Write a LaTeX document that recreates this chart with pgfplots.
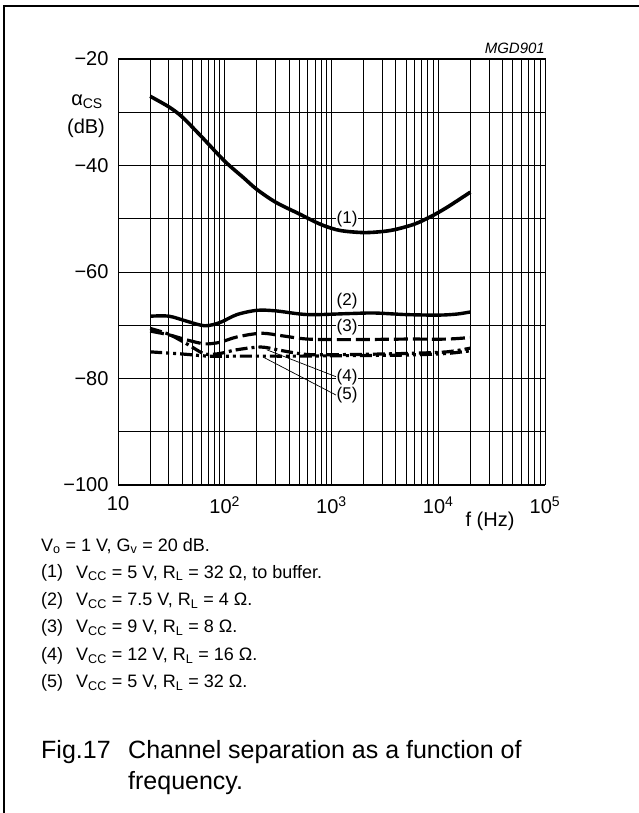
\documentclass[border=0pt]{standalone}
\usepackage{fontspec}
\setmainfont{Liberation Sans}
\usepackage{pgfplots}
\pgfplotsset{compat=1.18}
\begin{document}
\begin{tikzpicture}[x=1bp,y=1bp]
\useasboundingbox (0,0) rectangle (639,813);
\draw[line width=1.8bp] (4,0) -- (4,807) -- (639,807);
\begin{axis}[
  at={(118bp,328bp)}, anchor=south west,
  scale only axis, width=427bp, height=426bp,
  xmode=log, log basis x=10,
  xmin=10, xmax=100000, ymin=-100, ymax=-20,
  xtick={10,100,1000,10000,100000},
  xticklabels={10,10\textsuperscript{2},10\textsuperscript{3},10\textsuperscript{4},10\textsuperscript{5}},
  minor xtick={20,30,40,50,60,70,80,90,200,300,400,500,600,700,800,900,2000,3000,4000,5000,6000,7000,8000,9000,20000,30000,40000,50000,60000,70000,80000,90000},
  ytick={-100,-90,-80,-70,-60,-50,-40,-30,-20},
  yticklabels={−100,,−80,,−60,,−40,,−20},
  xmajorgrids, xminorgrids, ymajorgrids,
  major tick length=0pt, minor tick length=0pt,
  grid style={black, line width=0.9bp},
  minor grid style={black, line width=0.9bp},
  axis line style={line width=1bp},
  tick label style={font=\fontsize{20bp}{22bp}\selectfont},
  yticklabel style={xshift=-6bp},
  xticklabel style={yshift=-8bp},
  clip=false,
]
\addplot[black, line width=3.6bp, smooth] coordinates {
(20,-27.0) (30,-29.0) (40,-30.9) (60,-34.5) (100,-39.2) (150,-42.3) (200,-44.5) (300,-46.9) (500,-49.1) (800,-51.1) (1200,-52.2) (2000,-52.6) (3000,-52.4) (4000,-52.0) (6000,-51.0) (8500,-49.6) (12000,-47.9) (20000,-45.0)};
\addplot[black, line width=3.4bp, smooth] coordinates {
(20,-68.3) (30,-68.3) (45,-69.3) (65,-70.1) (90,-69.5) (130,-68.0) (200,-67.2) (300,-67.3) (600,-68.0) (1500,-67.8) (2500,-67.7) (5000,-68.0) (10000,-68.1) (15000,-67.9) (20000,-67.5)};
\addplot[black, line width=3.2bp, smooth, dash pattern=on 14bp off 5bp] coordinates {
(20,-71.1) (30,-71.8) (45,-72.8) (65,-73.5) (90,-73.2) (130,-72.2) (220,-71.5) (350,-72.0) (600,-72.6) (1500,-72.7) (5000,-72.6) (12000,-72.6) (20000,-72.3)};
\addplot[black, line width=3.2bp, smooth, dash pattern=on 12bp off 4bp on 3bp off 4bp] coordinates {
(20,-70.6) (30,-71.7) (45,-73.6) (65,-75.4) (90,-75.3) (130,-74.6) (220,-74.1) (350,-74.8) (600,-75.5) (1500,-75.5) (5000,-75.3) (12000,-75.0) (20000,-74.3)};
\addplot[black, line width=3.2bp, smooth, dash pattern=on 12bp off 4bp on 3bp off 4bp on 3bp off 4bp] coordinates {
(20,-75.0) (40,-75.4) (70,-75.8) (120,-75.8) (220,-75.8) (500,-75.8) (1500,-75.7) (5000,-75.6) (12000,-75.3) (20000,-74.8)};
\node[fill=white, inner sep=1bp, font=\fontsize{17bp}{19bp}\selectfont] at (axis cs:1400,-50.1) {(1)};
\node[fill=white, inner sep=1bp, font=\fontsize{17bp}{19bp}\selectfont] at (axis cs:1400,-65.5) {(2)};
\node[fill=white, inner sep=1bp, font=\fontsize{17bp}{19bp}\selectfont] at (axis cs:1400,-70.3) {(3)};
\node[fill=white, inner sep=1bp, font=\fontsize{17bp}{19bp}\selectfont] at (axis cs:1400,-79.8) {(4)};
\node[fill=white, inner sep=1bp, font=\fontsize{17bp}{19bp}\selectfont] at (axis cs:1400,-83.2) {(5)};
\draw[line width=0.7bp] (axis cs:247,-74.6) -- (axis cs:1100,-79.66);
\draw[line width=0.7bp] (axis cs:230,-76.0) -- (axis cs:1100,-83.1);
\end{axis}
\node[anchor=south east, inner sep=0, font=\fontsize{15bp}{17bp}\selectfont\itshape] at (545,759) {MGD901};
\node[anchor=east, inner sep=0, font=\fontsize{20bp}{22bp}\selectfont] at (103,711) {α\textsubscript{CS}};
\node[anchor=center, inner sep=0, font=\fontsize{20bp}{22bp}\selectfont] at (86,685) {(dB)};
\node[anchor=center, inner sep=0, font=\fontsize{20bp}{22bp}\selectfont] at (490,292) {f (Hz)};
\begin{scope}[every node/.style={anchor=west, inner sep=0, font=\fontsize{18bp}{21bp}\selectfont}]
\node at (41,267) {V\textsubscript{o} = 1 V, G\textsubscript{v} = 20 dB.};
\node at (41,240) {(1)}; \node at (76,240) {V\textsubscript{CC} = 5 V, R\textsubscript{L} = 32 Ω, to buffer.};
\node at (41,212) {(2)}; \node at (76,212) {V\textsubscript{CC} = 7.5 V, R\textsubscript{L} = 4 Ω.};
\node at (41,185) {(3)}; \node at (76,185) {V\textsubscript{CC} = 9 V, R\textsubscript{L} = 8 Ω.};
\node at (41,157) {(4)}; \node at (76,157) {V\textsubscript{CC} = 12 V, R\textsubscript{L} = 16 Ω.};
\node at (41,130) {(5)}; \node at (76,130) {V\textsubscript{CC} = 5 V, R\textsubscript{L} = 32 Ω.};
\end{scope}
\begin{scope}[every node/.style={anchor=west, inner sep=0, font=\fontsize{25bp}{29bp}\selectfont}]
\node at (41,61) {Fig.17};
\node at (128,61) {Channel separation as a function of};
\node at (128,30) {frequency.};
\end{scope}
\end{tikzpicture}
\end{document}
